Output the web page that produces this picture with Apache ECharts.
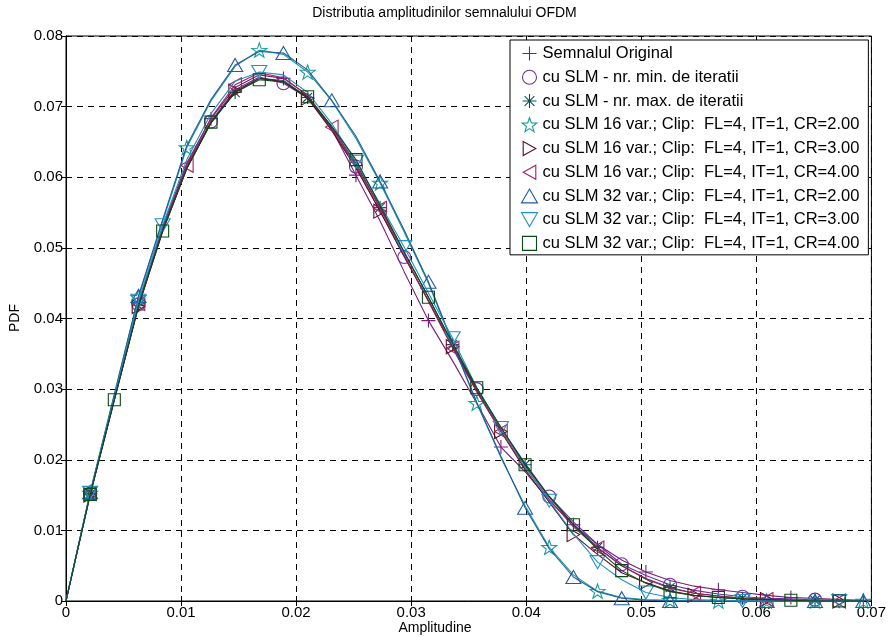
<!DOCTYPE html>
<html>
<head>
<meta charset="utf-8">
<script src="https://cdn.jsdelivr.net/npm/echarts@6/dist/echarts.min.js"></script>
<style>html,body{margin:0;padding:0;background:#fff;}#c{width:889px;height:638px;}</style>
</head>
<body>
<div id="c"></div>
<script>
// ---- data ----
const amplitude = [0, 0.0021, 0.0042, 0.0063, 0.0084, 0.0105, 0.0126, 0.0147, 0.0168, 0.0189, 0.0210, 0.0231, 0.0252, 0.0273, 0.0294, 0.0315, 0.0336, 0.0357, 0.0378, 0.0399, 0.0420, 0.0441, 0.0462, 0.0483, 0.0504, 0.0525, 0.0546, 0.0567, 0.0588, 0.0609, 0.0630, 0.0651, 0.0672, 0.0693];

const seriesNames = [
  'Semnalul Original',
  'cu SLM - nr. min. de iteratii',
  'cu SLM - nr. max. de iteratii',
  'cu SLM 16 var.; Clip:  FL=4, IT=1, CR=2.00',
  'cu SLM 16 var.; Clip:  FL=4, IT=1, CR=3.00',
  'cu SLM 16 var.; Clip:  FL=4, IT=1, CR=4.00',
  'cu SLM 32 var.; Clip:  FL=4, IT=1, CR=2.00',
  'cu SLM 32 var.; Clip:  FL=4, IT=1, CR=3.00',
  'cu SLM 32 var.; Clip:  FL=4, IT=1, CR=4.00'
];

const pdfOriginal = [0, .0152, .0287, .0421, .0530, .0620, .0683, .0727, .0745, .0740, .0716, .0668, .0603, .0538, .0466, .0397, .0340, .0280, .0218, .0183, .0142, .0108, .0080, .0058, .0041, .0029, .0021, .0016, .0012, .0008, .0005, .0004, .0002, .0001];
const pdfMinIter = [0, .0152, .0286, .0420, .0526, .0616, .0679, .0724, .0742, .0733, .0712, .0668, .0615, .0552, .0487, .0425, .0360, .0300, .0245, .0195, .0148, .0112, .0080, .0052, .0036, .0023, .0015, .0010, .0006, .0004, .0003, .0002, .0001, 0];
const pdfMaxIter = [0, .0151, .0285, .0418, .0524, .0613, .0677, .0720, .0740, .0737, .0713, .0670, .0620, .0557, .0493, .0430, .0363, .0300, .0243, .0193, .0147, .0108, .0076, .0050, .0032, .0019, .0011, .0007, .0004, .0002, .0001, .0001, 0, 0];
const pdf16CR2 = [0, .0153, .0291, .0430, .0537, .0642, .0708, .0757, .0780, .0774, .0749, .0708, .0655, .0592, .0522, .0450, .0365, .0280, .0203, .0135, .0076, .0037, .0014, .0005, .0002, .0001, 0, 0, 0, 0, 0, 0, 0, 0];
const pdf16CR3 = [0, .0150, .0284, .0417, .0523, .0612, .0677, .0722, .0740, .0735, .0712, .0666, .0613, .0552, .0488, .0425, .0360, .0297, .0240, .0186, .0140, .0094, .0066, .0040, .0026, .0014, .0008, .0005, .0003, .0002, .0001, 0, 0, 0];
const pdf16CR4 = [0, .0152, .0287, .0421, .0528, .0617, .0684, .0731, .0748, .0741, .0716, .0671, .0617, .0556, .0490, .0424, .0358, .0296, .0240, .0190, .0144, .0105, .0075, .0050, .0031, .0018, .0011, .0007, .0004, .0002, .0001, .0001, 0, 0];
const pdf32CR2 = [0, .0154, .0293, .0432, .0540, .0645, .0710, .0759, .0778, .0776, .0752, .0709, .0658, .0594, .0525, .0452, .0366, .0281, .0205, .0132, .0074, .0034, .0013, .0004, .0001, 0, 0, 0, 0, 0, 0, 0, 0, 0];
const pdf32CR3 = [0, .0153, .0289, .0425, .0532, .0625, .0690, .0736, .0749, .0745, .0720, .0676, .0622, .0562, .0501, .0436, .0372, .0302, .0245, .0190, .0142, .0095, .0055, .0030, .0012, .0005, .0002, .0001, 0, 0, 0, 0, 0, 0];
const pdf32CR4 = [0, .0151, .0285, .0418, .0524, .0613, .0678, .0720, .0738, .0735, .0714, .0672, .0625, .0560, .0494, .0430, .0365, .0302, .0246, .0193, .0148, .0108, .0073, .0043, .0025, .0013, .0008, .0005, .0003, .0002, .0001, 0, 0, 0];

// sample indices at which each series shows its marker
const markOriginal = [1, 3, 6, 9, 12, 15, 18, 21, 24, 27, 30, 33];
const markMinIter = [1, 3, 6, 9, 12, 14, 17, 20, 23, 25, 28, 31];
const markMaxIter = [1, 3, 7, 10, 13, 16, 19, 22, 25, 28, 31];
const mark16CR2 = [1, 3, 5, 8, 10, 13, 17, 20, 22, 25, 27, 29, 31, 33];
const mark16CR3 = [1, 3, 7, 10, 13, 16, 18, 21, 24, 26, 29, 32];
const mark16CR4 = [1, 3, 5, 7, 11, 13, 16, 18, 22, 26, 29, 32];
const mark32CR2 = [1, 3, 7, 9, 11, 13, 15, 19, 21, 23, 25, 29, 31, 33];
const mark32CR3 = [1, 3, 4, 8, 12, 14, 16, 18, 20, 22, 24, 28, 32];
const mark32CR4 = [1, 2, 4, 6, 8, 10, 12, 15, 17, 19, 21, 23, 25, 27, 30, 32];

const xTicks = ['0', '0.01', '0.02', '0.03', '0.04', '0.05', '0.06', '0.07'];
const yTicks = ['0', '0.01', '0.02', '0.03', '0.04', '0.05', '0.06', '0.07', '0.08'];

// ---- styles ----
const SYM = {
  plus: 'path://M0,5L10,5M5,0L5,10',
  circle: 'circle',
  aster: 'path://M0,5L10,5M5,0L5,10M1.5,1.5L8.5,8.5M1.5,8.5L8.5,1.5',
  star: 'path://M5,0L6.18,3.38L9.76,3.45L6.9,5.62L7.94,9.05L5,7L2.06,9.05L3.1,5.62L0.24,3.45L3.82,3.38Z',
  right: 'path://M0,0L9,5L0,10Z',
  left: 'path://M9,0L0,5L9,10Z',
  up: 'path://M5,0L10,8.7L0,8.7Z',
  down: 'path://M0,0L10,0L5,8.7Z',
  square: 'path://M0,0L10,0L10,10L0,10Z'
};
const defs = [
  {y: pdfOriginal, m: markOriginal, sym: SYM.plus, size: 14, color: '#7a1c7a'},
  {y: pdfMinIter, m: markMinIter, sym: SYM.circle, size: 13, color: '#6b2fa3'},
  {y: pdfMaxIter, m: markMaxIter, sym: SYM.aster, size: 13, color: '#0e5252'},
  {y: pdf16CR2, m: mark16CR2, sym: SYM.star, size: 15, color: '#1d9a9a'},
  {y: pdf16CR3, m: mark16CR3, sym: SYM.right, size: 14, color: '#5e1020'},
  {y: pdf16CR4, m: mark16CR4, sym: SYM.left, size: 14, color: '#a3205f'},
  {y: pdf32CR2, m: mark32CR2, sym: SYM.up, size: 15, color: '#1e5c9e'},
  {y: pdf32CR3, m: mark32CR3, sym: SYM.down, size: 15, color: '#2290c4'},
  {y: pdf32CR4, m: mark32CR4, sym: SYM.square, size: 12, color: '#0b4a16'}
];

const series = defs.map((d, si) => ({
  name: seriesNames[si],
  type: 'line',
  xAxisIndex: 0,
  yAxisIndex: 0,
  symbol: d.sym,
  symbolSize: d.size,
  symbolKeepAspect: true,
  showSymbol: true,
  showAllSymbol: true,
  smooth: false,
  clip: false,
  lineStyle: {color: d.color, width: 1.1},
  itemStyle: {color: 'none', borderColor: d.color, borderWidth: 1.1},
  emphasis: {disabled: true},
  z: 2 + si,
  data: amplitude.map((x, i) => d.m.indexOf(i) >= 0
    ? {value: [x, d.y[i]]}
    : {value: [x, d.y[i]], symbol: 'none'})
}));

const FONT = 'Liberation Sans, Arial, Helvetica, sans-serif';
const chart = echarts.init(document.getElementById('c'), null, {renderer: 'canvas'});
const gridSplit = {show: true, lineStyle: {color: '#000', type: [6, 5], width: 1}};
chart.setOption({
  animation: false,
  backgroundColor: '#fff',
  grid: {left: 66, right: 15, top: 36, bottom: 37, show: true, borderColor: '#000', borderWidth: 1, backgroundColor: 'transparent'},
  legend: {
    left: 510, top: 40, orient: 'vertical',
    backgroundColor: '#fff', borderColor: '#000', borderWidth: 1,
    padding: [4, 9, 2, 9],
    itemWidth: 16, itemHeight: 14, itemGap: 4.75,
    textStyle: {fontFamily: FONT, fontSize: 16.5, color: '#000', lineHeight: 16},
    selectedMode: false,
    data: defs.map((d, si) => ({
      name: seriesNames[si], icon: d.sym,
      itemStyle: {color: 'none', borderColor: d.color, borderWidth: 1.1}
    }))
  },
  xAxis: [
    {type: 'value', min: 0, max: 0.07, interval: 0.01, position: 'bottom',
     axisLine: {show: true, lineStyle: {color: '#000'}},
     axisTick: {show: true, inside: true, length: 5, lineStyle: {color: '#000'}},
     axisLabel: {margin: 4, fontFamily: FONT, fontSize: 15, color: '#000',
       formatter: (v) => xTicks[Math.round(v / 0.01)]},
     splitLine: gridSplit},
    {type: 'value', min: 0, max: 0.07, interval: 0.01, position: 'top',
     axisLine: {show: true, lineStyle: {color: '#000'}},
     axisTick: {show: true, inside: true, length: 5, lineStyle: {color: '#000'}},
     axisLabel: {show: false}, splitLine: {show: false}}
  ],
  yAxis: [
    {type: 'value', min: 0, max: 0.08, interval: 0.01, position: 'left',
     axisLine: {show: true, lineStyle: {color: '#000'}},
     axisTick: {show: true, inside: true, length: 5, lineStyle: {color: '#000'}},
     axisLabel: {margin: 3, fontFamily: FONT, fontSize: 15, color: '#000',
       formatter: (v) => yTicks[Math.round(v / 0.01)]},
     splitLine: gridSplit},
    {type: 'value', min: 0, max: 0.08, interval: 0.01, position: 'right',
     axisLine: {show: true, lineStyle: {color: '#000'}},
     axisTick: {show: true, inside: true, length: 5, lineStyle: {color: '#000'}},
     axisLabel: {show: false}, splitLine: {show: false}}
  ],
  graphic: [
    {type: 'text', left: 'center', top: 6, style: {text: 'Distributia amplitudinilor semnalului OFDM', font: '14px ' + FONT, fill: '#000'}, x: -25},
    {type: 'text', x: 435, y: 628, style: {text: 'Amplitudine', font: '14px ' + FONT, fill: '#000', align: 'center', verticalAlign: 'middle'}},
    {type: 'text', x: 15, y: 318, rotation: Math.PI / 2, style: {text: 'PDF', font: '14px ' + FONT, fill: '#000', align: 'center', verticalAlign: 'middle'}}
  ],
  series: series
});
</script>
</body>
</html>
